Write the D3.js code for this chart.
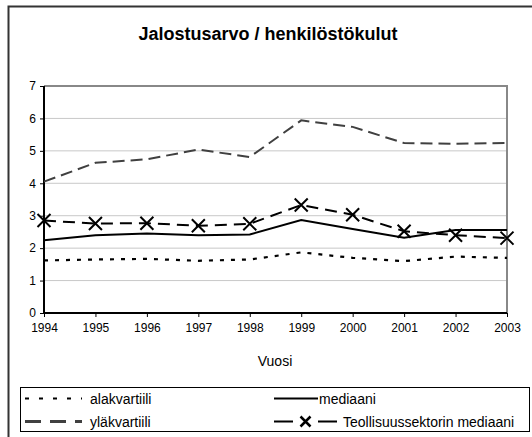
<!DOCTYPE html>
<html>
<head>
<meta charset="utf-8">
<script src="https://cdn.jsdelivr.net/npm/d3@7"></script>
<style>
  body { margin: 0; background: #fff; }
  svg { font-family: "Liberation Sans", Arial, sans-serif; }
</style>
</head>
<body>
<script>
(function(){

//data
var years = [1994, 1995, 1996, 1997, 1998, 1999, 2000, 2001, 2002, 2003];
var alakvartiili = [1.62, 1.65, 1.67, 1.61, 1.65, 1.87, 1.70, 1.60, 1.74, 1.70];
var mediaani = [2.24, 2.40, 2.45, 2.40, 2.42, 2.87, 2.59, 2.32, 2.56, 2.56];
var ylakvartiili = [4.05, 4.63, 4.74, 5.04, 4.81, 5.94, 5.74, 5.24, 5.22, 5.24];
var teollisuus = [2.85, 2.76, 2.77, 2.69, 2.75, 3.33, 3.03, 2.52, 2.40, 2.31];
var yTicks = [0, 1, 2, 3, 4, 5, 6, 7];

var width = 532, height = 437;

var svg = d3.select("body").append("svg")
    .attr("width", width)
    .attr("height", height);

//outer chart border (runs off the right and bottom edge)
svg.append("rect")
    .attr("x", 8.5).attr("y", 6.5)
    .attr("width", 560).attr("height", 460)
    .attr("fill", "#fff")
    .attr("stroke", "#333")
    .attr("stroke-width", 2);

svg.append("text")
    .attr("x", 268).attr("y", 40)
    .attr("text-anchor", "middle")
    .attr("font-size", 18)
    .attr("font-weight", "bold")
    .text("Jalostusarvo / henkilöstökulut");

var x = d3.scalePoint().domain(years).range([44, 507]);
var y = d3.scaleLinear().domain([0, 7]).range([313, 86]);

//gridlines
svg.selectAll(".grid")
    .data(yTicks.filter(function(d){ return d > 0 && d < 7; }))
    .enter().append("line")
    .attr("class", "grid")
    .attr("x1", 44).attr("x2", 507)
    .attr("y1", function(d){ return y(d); })
    .attr("y2", function(d){ return y(d); })
    .attr("stroke", "#c8c8c8")
    .attr("stroke-width", 1);

//gray plot frame top + right
svg.append("path")
    .attr("d", "M44," + y(7) + "H507V313")
    .attr("fill", "none")
    .attr("stroke", "#888")
    .attr("stroke-width", 2);

var yAxis = svg.append("g")
    .attr("transform", "translate(44,0)")
    .call(d3.axisLeft(y).tickValues(yTicks).tickSize(4).tickPadding(4).tickFormat(d3.format("d")));
var xAxis = svg.append("g")
    .attr("transform", "translate(0,313)")
    .call(d3.axisBottom(x).tickSize(4).tickPadding(6).tickFormat(d3.format("d")));

[yAxis, xAxis].forEach(function(a){
    a.select(".domain").attr("stroke", "#000").attr("stroke-width", 2);
    a.selectAll(".tick line").attr("stroke", "#000");
    a.selectAll("text").attr("font-size", 12).attr("fill", "#000")
        .attr("font-family", "Liberation Sans, Arial, sans-serif");
});
xAxis.select(".domain").attr("d", "M44,0H507");
yAxis.select(".domain").attr("d", "M0,86V313");

svg.append("text")
    .attr("x", 275).attr("y", 366)
    .attr("text-anchor", "middle")
    .attr("font-size", 14)
    .text("Vuosi");

var line = d3.line()
    .x(function(d, i){ return x(years[i]); })
    .y(function(d){ return y(d); });

var series = [
    {name: "alakvartiili", values: alakvartiili, color: "#000", dash: "4,7", w: 2.2},
    {name: "yläkvartiili", values: ylakvartiili, color: "#404040", dash: "12,6", w: 2},
    {name: "mediaani", values: mediaani, color: "#000", dash: null, w: 2},
    {name: "Teollisuussektorin mediaani", values: teollisuus, color: "#000", dash: "12,7", w: 2}
];

series.forEach(function(s){
    svg.append("path")
        .datum(s.values)
        .attr("d", line)
        .attr("fill", "none")
        .attr("stroke", s.color)
        .attr("stroke-width", s.w)
        .attr("stroke-dasharray", s.dash);
});

//X markers
var m = 6.5;
svg.selectAll(".marker")
    .data(teollisuus)
    .enter().append("path")
    .attr("class", "marker")
    .attr("d", function(d, i){
        var cx = x(years[i]), cy = y(d);
        return "M" + (cx - m) + "," + (cy - m) + "L" + (cx + m) + "," + (cy + m) +
               "M" + (cx - m) + "," + (cy + m) + "L" + (cx + m) + "," + (cy - m);
    })
    .attr("stroke", "#000")
    .attr("stroke-width", 2)
    .attr("fill", "none");

//legend
svg.append("rect")
    .attr("x", 20.5).attr("y", 387.5)
    .attr("width", 509).attr("height", 44)
    .attr("fill", "#fff")
    .attr("stroke", "#000")
    .attr("stroke-width", 1);

var legend = [
    {s: series[0], x1: 25, x2: 82, tx: 90, ty: 398.5, dash: "4,10", w: 2},
    {s: series[1], x1: 25, x2: 82, tx: 90, ty: 421.5, dash: "16,9", w: 3},
    {s: series[2], x1: 274, x2: 318, tx: 319, ty: 398.5, dash: null, w: 2},
    {s: series[3], x1: 274, x2: 337, tx: 343, ty: 421.5, dash: "19,25", w: 2}
];

legend.forEach(function(l){
    svg.append("line")
        .attr("x1", l.x1).attr("x2", l.x2)
        .attr("y1", l.ty).attr("y2", l.ty)
        .attr("stroke", l.s.color)
        .attr("stroke-width", l.w)
        .attr("stroke-dasharray", l.dash);
    svg.append("text")
        .attr("x", l.tx).attr("y", l.ty + 5)
        .attr("font-size", 14)
        .text(l.s.name);
});

//marker in legend
var lx = 305.5, ly = 421.5, lm = 5;
svg.append("path")
    .attr("d", "M" + (lx - lm) + "," + (ly - lm) + "L" + (lx + lm) + "," + (ly + lm) +
               "M" + (lx - lm) + "," + (ly + lm) + "L" + (lx + lm) + "," + (ly - lm))
    .attr("stroke", "#000")
    .attr("stroke-width", 2.5);

})();
</script>
</body>
</html>
